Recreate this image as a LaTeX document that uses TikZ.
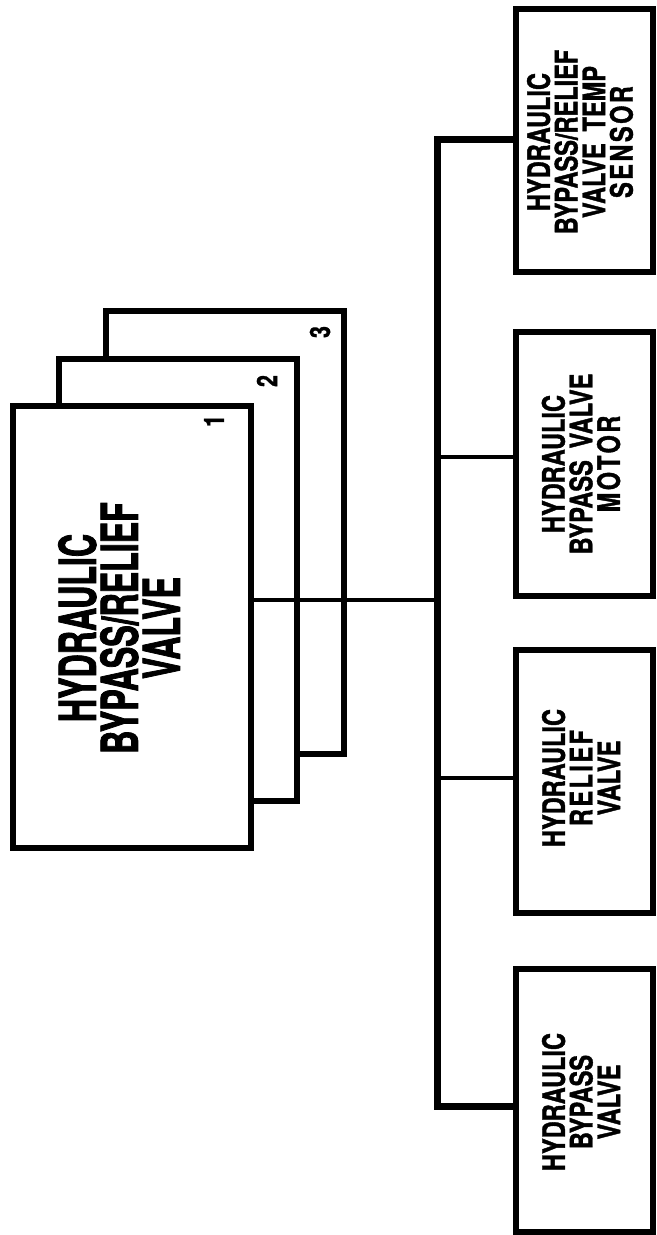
\documentclass[tikz,border=0pt]{standalone}
\usepackage{fontspec}
\newfontfamily\hvsmall{TeX Gyre Heros}[FakeStretch=0.76,FakeBold=1.2,WordSpace=1.8]
\newfontfamily\hvmain{TeX Gyre Heros}[FakeStretch=0.63,FakeBold=1.5]
\newcommand{\spc}[1]{{\addfontfeature{LetterSpace=8}#1}}
\begin{document}
\begin{tikzpicture}[x=0.5pt,y=-0.5pt,
  box/.style={draw=black,fill=white,line width=3pt,rectangle,inner sep=0pt,outer sep=0pt},
  bigbox/.style={box,minimum width=119pt,minimum height=221pt},
  smallbox/.style={box,minimum width=68.5pt,minimum height=131.5pt},
  smalltext/.style={rotate=90,align=center,inner sep=0pt,font={\hvsmall\bfseries\fontsize{15.5}{13.8}\selectfont}},
  maintext/.style={rotate=90,align=center,inner sep=0pt,font={\hvmain\bfseries\fontsize{25.5}{21}\selectfont}},
  numtext/.style={rotate=90,inner sep=0pt,font={\hvsmall\bfseries\fontsize{14}{14}\selectfont}},
  bus/.style={line width=3.5pt,line join=miter},
  branch/.style={line width=2.3pt}]
\useasboundingbox (0,0) rectangle (657,1235);
% stacked main boxes
\node[bigbox] (b3) at (225,532.5) {};
\node[bigbox] (b2) at (178,579.5) {};
\node[bigbox] (b1) at (131.5,627) {};
\node[numtext] (n3) at (320,332) {3};
\node[numtext] (n2) at (267,381) {2};
\node[numtext] (n1) at (214,421) {1};
\node[maintext] (mt) at (119,628) {HYDRAULIC\\BYPASS/RELIEF\\VALVE};
% component boxes
\node[smallbox] (sensor) at (584.5,140.5) {};
\node[smallbox] (motor) at (584.5,464) {};
\node[smallbox] (relief) at (584.5,781) {};
\node[smallbox] (bypass) at (584.5,1100.5) {};
\node[smalltext] (tsensor) at (580,142) {HYDRAULIC\\BYPASS/RELIEF\\VALVE TEMP\\\spc{SENSOR}};
\node[smalltext] (tmotor) at (581,464) {HYDRAULIC\\BYPASS VALVE\\\spc{MOTOR}};
\node[smalltext] (trelief) at (581,778) {HYDRAULIC\\\spc{RELIEF}\\VALVE};
\node[smalltext] (tbypass) at (581,1102) {HYDRAULIC\\BYPASS\\VALVE};
% bus
\coordinate (bt) at (437,140);
\coordinate (bb) at (437,1106);
\coordinate (bm) at (437,600);
\draw[bus] (sensor.west |- bt) -- (bt) -- (bb) -- (bypass.west |- bb);
\draw[branch] (b1.east |- bm) -- (bm);
\draw[branch] (437,457) -- (motor.west |- 437,457);
\draw[branch] (437,778) -- (relief.west |- 437,778);
\end{tikzpicture}
\end{document}
